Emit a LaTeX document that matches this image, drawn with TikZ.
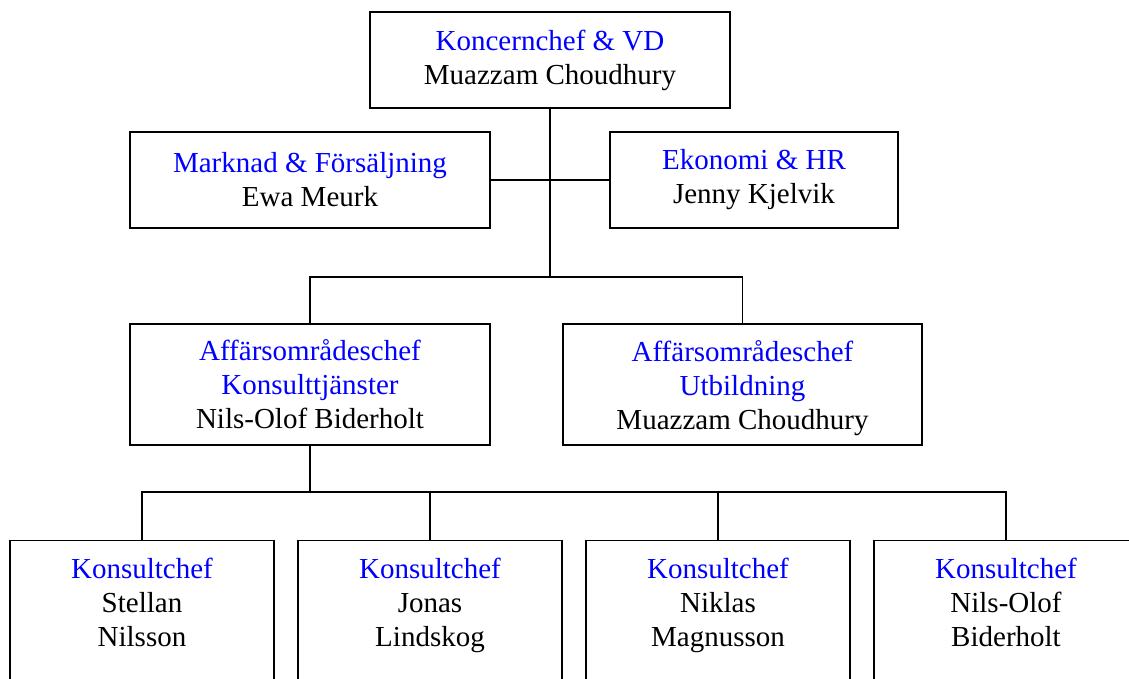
\documentclass[tikz,border=0pt]{standalone}
\usepackage{fontspec}
\setmainfont{Liberation Serif}
\definecolor{roleBlue}{RGB}{0,0,255}

\begin{document}
\begin{tikzpicture}[x=0.5pt, y=-0.5pt,
    boxStyle/.style={draw, line width=0.6pt, align=center, inner sep=0pt,
        font=\fontsize{14.5}{17}\selectfont},
    konsultStyle/.style={boxStyle, anchor=north, minimum width=132pt, inner ysep=8.7pt},
    lineStyle/.style={line width=0.6pt},
    trunkStyle/.style={line width=1.1pt}]
    \useasboundingbox (0,0) rectangle (1129,679);
    \clip (0,0) rectangle (1129,679);

    \node[boxStyle, minimum width=180pt, minimum height=48pt](ceo) at (550, 60)
        {\textcolor{roleBlue}{Koncernchef \& VD}\\Muazzam Choudhury};
    \node[boxStyle, minimum width=180pt, minimum height=48pt](mark) at (310, 180)
        {\textcolor{roleBlue}{Marknad \& Försäljning}\\Ewa Meurk};
    \node[boxStyle, minimum width=144pt, minimum height=48pt](eko) at (754, 180)
        {\textcolor{roleBlue}{Ekonomi \& HR}\\Jenny Kjelvik};
    \node[boxStyle, minimum width=180pt, minimum height=60.5pt](aff1) at (310, 384.5)
        {\textcolor{roleBlue}{Affärsområdeschef}\\\textcolor{roleBlue}{Konsulttjänster}\\Nils-Olof Biderholt};
    \node[boxStyle, minimum width=179.5pt, minimum height=60.5pt](aff2) at (742.5, 384.5)
        {\textcolor{roleBlue}{Affärsområdeschef}\\\textcolor{roleBlue}{Utbildning}\\\raisebox{0pt}[\height][0pt]{Muazzam Choudhury}};

    \node[konsultStyle](k1) at (142, 540)
        {\textcolor{roleBlue}{Konsultchef}\\Stellan\\Nilsson\\[30pt]\mbox{}};
    \node[konsultStyle](k2) at (430, 540)
        {\textcolor{roleBlue}{Konsultchef}\\Jonas\\Lindskog\\[30pt]\mbox{}};
    \node[konsultStyle](k3) at (718, 540)
        {\textcolor{roleBlue}{Konsultchef}\\Niklas\\Magnusson\\[30pt]\mbox{}};
    \node[konsultStyle](k4) at (1006, 540)
        {\textcolor{roleBlue}{Konsultchef}\\Nils-Olof\\Biderholt\\[30pt]\mbox{}};

    \coordinate (bus1) at (550, 277);
    \coordinate (bus2) at (310, 492);

    \draw[trunkStyle] (ceo) -- (bus1);
    \draw[lineStyle] (mark) -- (eko);
    \draw[lineStyle] (aff1) |- (bus1) -| (aff2);
    \draw[trunkStyle] (aff1) -- (bus2);
    \draw[lineStyle] (k1) |- (bus2) -| (k4);
    \draw[lineStyle] (k2) -- (k2 |- bus2);
    \draw[lineStyle] (k3) -- (k3 |- bus2);
\end{tikzpicture}
\end{document}
